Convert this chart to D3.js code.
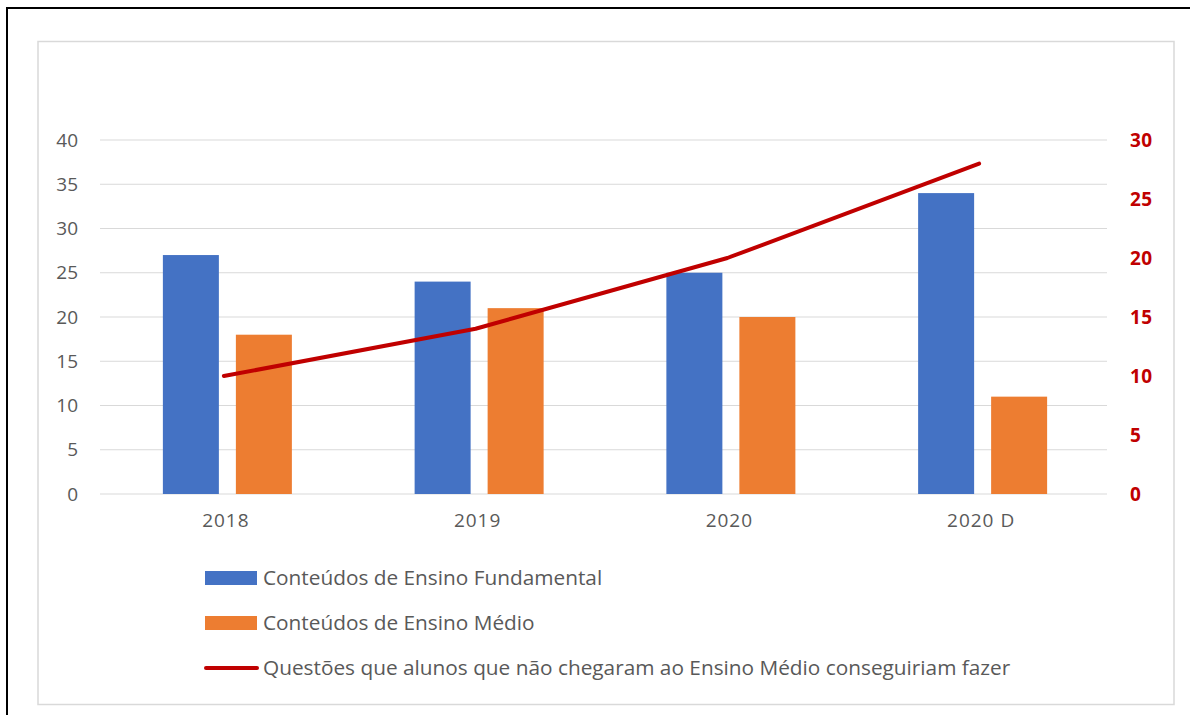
<!DOCTYPE html>
<html>
<head>
<meta charset="utf-8">
<script src="https://cdn.jsdelivr.net/npm/d3@7"></script>
<style>
  body { margin: 0; background: #fff; }
  svg { display: block; font-family: "Open Sans", "Noto Sans", sans-serif; }
</style>
</head>
<body>
<svg width="1190" height="715"></svg>
<script>
var categories = ["2018", "2019", "2020", "2020 D"];
var fundamental = [27, 24, 25, 34];
var medio = [18, 21, 20, 11];
var questoes = [10, 14, 20, 28];
var leftTicks = [0, 5, 10, 15, 20, 25, 30, 35, 40];
var rightTicks = [0, 5, 10, 15, 20, 25, 30];
var legendNames = ["Conteúdos de Ensino Fundamental", "Conteúdos de Ensino Médio",
  "Questões que alunos que não chegaram ao Ensino Médio conseguiriam fazer"];

var svg = d3.select("svg");
var font = '"Open Sans", "Noto Sans", sans-serif';

// outer frame (cropped screenshot: only top and left edges visible)
svg.append("path").attr("d", "M7,715 V8 H1190").attr("fill", "none")
  .attr("stroke", "#000").attr("stroke-width", 2);
// chart area border
svg.append("rect").attr("x", 38).attr("y", 41.5).attr("width", 1136).attr("height", 663)
  .attr("fill", "#fff").attr("stroke", "#d9d9d9").attr("stroke-width", 1.5);

var x = d3.scaleBand().domain(categories).range([100, 1107]);
var yL = d3.scaleLinear().domain([0, 40]).range([494, 140]);
var yR = d3.scaleLinear().domain([0, 30]).range([494, 140]);

// gridlines
svg.append("g").selectAll("line").data(leftTicks).join("line")
  .attr("x1", 100).attr("x2", 1107)
  .attr("y1", d => yL(d)).attr("y2", d => yL(d))
  .attr("stroke", "#d9d9d9").attr("stroke-width", 1.2);

// left axis
var gl = svg.append("g").attr("transform", "translate(100,0)")
  .call(d3.axisLeft(yL).tickValues(leftTicks).tickSize(0).tickPadding(22))
  .attr("font-family", font);
gl.select(".domain").remove();
gl.selectAll("text").attr("fill", "#595959").style("font-size", "19px");

// right axis
var gr = svg.append("g").attr("transform", "translate(1107,0)")
  .call(d3.axisRight(yR).tickValues(rightTicks).tickSize(0).tickPadding(23))
  .attr("font-family", font);
gr.select(".domain").remove();
gr.selectAll("text").attr("fill", "#c00000").style("font-size", "19px")
  .style("font-weight", "bold").style("letter-spacing", "0.5px");

// bottom axis
var gb = svg.append("g").attr("transform", "translate(0,494)")
  .call(d3.axisBottom(x).tickSize(0).tickPadding(20))
  .attr("font-family", font);
gb.select(".domain").remove();
gb.selectAll("text").attr("fill", "#595959").style("font-size", "19px")
  .style("letter-spacing", "1px");

// bars
var barW = 56, gap = 17;
var mid = (i) => x(categories[i]) + x.bandwidth() / 2 + 1.5;
svg.append("g").selectAll("rect").data(fundamental).join("rect")
  .attr("x", (d, i) => mid(i) - gap / 2 - barW)
  .attr("y", d => yL(d)).attr("width", barW).attr("height", d => yL(0) - yL(d))
  .attr("fill", "#4472c4");
svg.append("g").selectAll("rect").data(medio).join("rect")
  .attr("x", (d, i) => mid(i) + gap / 2)
  .attr("y", d => yL(d)).attr("width", barW).attr("height", d => yL(0) - yL(d))
  .attr("fill", "#ed7d31");

// line
var line = d3.line().x((d, i) => x(categories[i]) + x.bandwidth() / 2 - 2).y(d => yR(d));
svg.append("path").datum(questoes).attr("d", line).attr("fill", "none")
  .attr("stroke", "#c00000").attr("stroke-width", 4).attr("stroke-linecap", "round")
  .attr("stroke-linejoin", "round");

// legend
var legY = [578, 623, 668];
var colors = ["#4472c4", "#ed7d31", "#c00000"];
var lg = svg.append("g");
legendNames.forEach(function(name, i) {
  if (i < 2) {
    lg.append("rect").attr("x", 205).attr("y", legY[i] - 7).attr("width", 52).attr("height", 14)
      .attr("fill", colors[i]);
  } else {
    lg.append("line").attr("x1", 206).attr("x2", 257).attr("y1", legY[i]).attr("y2", legY[i])
      .attr("stroke", colors[i]).attr("stroke-width", 4).attr("stroke-linecap", "round");
  }
  lg.append("text").attr("x", 263).attr("y", legY[i]).attr("dy", "0.35em")
    .attr("fill", "#595959").style("font-size", "20.8px").text(name);
});
</script>
</body>
</html>
